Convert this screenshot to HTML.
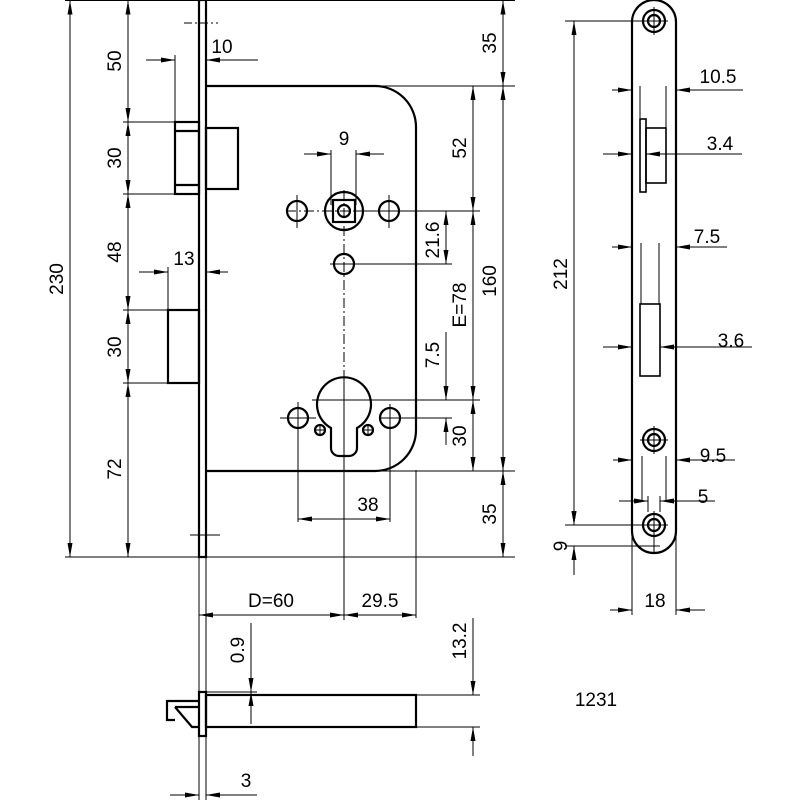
<!DOCTYPE html>
<html><head><meta charset="utf-8"><style>
html,body{margin:0;padding:0;background:#fff}
svg{display:block}
text{font-family:"Liberation Sans",sans-serif;font-size:19px;fill:#000}
</style></head><body>
<svg width="800" height="800" viewBox="0 0 800 800" xmlns="http://www.w3.org/2000/svg">
<defs>
<marker id="a" viewBox="0 0 14 6" refX="14" refY="3" markerWidth="14" markerHeight="6" markerUnits="userSpaceOnUse" orient="auto-start-reverse"><path d="M0,0.5 L14,3 L0,5.5z" fill="#000"/></marker>
</defs>
<g fill="none" stroke="#000" stroke-width="1">
<!-- extension lines -->
<line x1="65" y1="0.5" x2="515" y2="0.5"/>
<line x1="65" y1="557" x2="515" y2="557"/>
<line x1="123" y1="122" x2="175" y2="122"/>
<line x1="123" y1="194" x2="175" y2="194"/>
<line x1="123" y1="310" x2="168" y2="310"/>
<line x1="123" y1="383" x2="168" y2="383"/>
<line x1="375" y1="86" x2="515" y2="86"/>
<line x1="375" y1="471" x2="515" y2="471"/>
<line x1="354" y1="211" x2="480" y2="211"/>
<line x1="354" y1="264" x2="452" y2="264"/>
<line x1="312" y1="400" x2="480" y2="400"/>
<line x1="380" y1="418" x2="452" y2="418"/>
<!-- left dims -->
<line x1="70" y1="0.5" x2="70" y2="557" marker-start="url(#a)" marker-end="url(#a)"/>
<line x1="128" y1="0.5" x2="128" y2="122" marker-start="url(#a)" marker-end="url(#a)"/>
<line x1="128" y1="122" x2="128" y2="194" marker-start="url(#a)" marker-end="url(#a)"/>
<line x1="128" y1="194" x2="128" y2="310" marker-start="url(#a)" marker-end="url(#a)"/>
<line x1="128" y1="310" x2="128" y2="383" marker-start="url(#a)" marker-end="url(#a)"/>
<line x1="128" y1="383" x2="128" y2="557" marker-start="url(#a)" marker-end="url(#a)"/>
<!-- 10 -->
<line x1="175" y1="55" x2="175" y2="122"/>
<line x1="146" y1="60" x2="175" y2="60" marker-end="url(#a)"/>
<line x1="258" y1="60" x2="206" y2="60" marker-end="url(#a)"/>
<line x1="184" y1="23" x2="218" y2="23" stroke-dasharray="8,3,2,3"/>
<!-- 13 -->
<line x1="168" y1="267" x2="168" y2="310"/>
<line x1="139" y1="272" x2="168" y2="272" marker-end="url(#a)"/>
<line x1="228" y1="272" x2="206" y2="272" marker-end="url(#a)"/>
<line x1="190" y1="535" x2="220" y2="535"/>
<!-- right dims -->
<line x1="503" y1="0.5" x2="503" y2="86" marker-start="url(#a)" marker-end="url(#a)"/>
<line x1="503" y1="86" x2="503" y2="471" marker-start="url(#a)" marker-end="url(#a)"/>
<line x1="503" y1="471" x2="503" y2="557" marker-start="url(#a)" marker-end="url(#a)"/>
<line x1="473" y1="86" x2="473" y2="211" marker-start="url(#a)" marker-end="url(#a)"/>
<line x1="473" y1="211" x2="473" y2="400" marker-start="url(#a)" marker-end="url(#a)"/>
<line x1="473" y1="400" x2="473" y2="471" marker-start="url(#a)" marker-end="url(#a)"/>
<line x1="446" y1="211" x2="446" y2="264" marker-start="url(#a)" marker-end="url(#a)"/>
<line x1="446" y1="332" x2="446" y2="400" marker-end="url(#a)"/>
<line x1="446" y1="445" x2="446" y2="418" marker-end="url(#a)"/>
<!-- 9 -->
<line x1="331" y1="150" x2="331" y2="205"/>
<line x1="356" y1="150" x2="356" y2="205"/>
<line x1="304" y1="154" x2="331" y2="154" marker-end="url(#a)"/>
<line x1="384" y1="154" x2="356" y2="154" marker-end="url(#a)"/>
<!-- centerlines -->
<line x1="344" y1="190" x2="344" y2="380" stroke-dasharray="10,3,2,3"/>
<line x1="344" y1="380" x2="344" y2="620"/>
<line x1="286" y1="211" x2="400" y2="211" stroke-dasharray="10,3,2,3"/>
<line x1="297" y1="195" x2="297" y2="228"/>
<line x1="389" y1="195" x2="389" y2="228"/>
<line x1="330" y1="264" x2="354" y2="264"/>
<line x1="298" y1="402" x2="298" y2="522"/>
<line x1="390" y1="404" x2="390" y2="522"/>
<line x1="280" y1="418" x2="316" y2="418"/>
<line x1="314" y1="430" x2="326" y2="430"/><line x1="320" y1="424" x2="320" y2="436"/>
<line x1="362" y1="430" x2="374" y2="430"/><line x1="368" y1="424" x2="368" y2="436"/>
<!-- 38 -->
<line x1="298" y1="519" x2="390" y2="519" marker-start="url(#a)" marker-end="url(#a)"/>
<!-- D=60 / 29.5 -->
<line x1="199" y1="557" x2="199" y2="800"/>
<line x1="206" y1="557" x2="206" y2="800"/>
<line x1="416" y1="470" x2="416" y2="618"/>
<line x1="199" y1="615" x2="344" y2="615" marker-start="url(#a)" marker-end="url(#a)"/>
<line x1="344" y1="615" x2="416" y2="615" marker-start="url(#a)" marker-end="url(#a)"/>
<!-- side view dims -->
<line x1="251" y1="623" x2="251" y2="692" marker-end="url(#a)"/>
<line x1="251" y1="724" x2="251" y2="692" marker-end="url(#a)"/>
<line x1="206" y1="692" x2="257" y2="692"/>
<line x1="416" y1="695" x2="480" y2="695"/>
<line x1="416" y1="727" x2="480" y2="727"/>
<line x1="473" y1="618" x2="473" y2="695" marker-end="url(#a)"/>
<line x1="473" y1="756" x2="473" y2="727" marker-end="url(#a)"/>
<line x1="170" y1="795" x2="199" y2="795" marker-end="url(#a)"/>
<line x1="257" y1="795" x2="206" y2="795" marker-end="url(#a)"/>
<!-- right view dims -->
<line x1="565" y1="21" x2="654" y2="21"/>
<line x1="565" y1="546" x2="660" y2="546"/>
<line x1="574" y1="21" x2="574" y2="525" marker-start="url(#a)" marker-end="url(#a)"/>
<line x1="565" y1="525" x2="654" y2="525"/>
<line x1="574" y1="505" x2="574" y2="525" marker-end="url(#a)"/>
<line x1="574" y1="575" x2="574" y2="546" marker-end="url(#a)"/>
<line x1="612" y1="90" x2="632" y2="90" marker-end="url(#a)"/>
<line x1="743" y1="90" x2="676" y2="90" marker-end="url(#a)"/>
<line x1="640" y1="86" x2="640" y2="118"/><line x1="666" y1="86" x2="666" y2="128"/>
<line x1="603" y1="154" x2="632" y2="154" marker-end="url(#a)"/>
<line x1="742" y1="154" x2="646" y2="154" marker-end="url(#a)"/>
<line x1="612" y1="247" x2="632" y2="247" marker-end="url(#a)"/>
<line x1="727" y1="247" x2="676" y2="247" marker-end="url(#a)"/>
<line x1="641" y1="243" x2="641" y2="304"/><line x1="659" y1="243" x2="659" y2="304"/>
<line x1="603" y1="347" x2="632" y2="347" marker-end="url(#a)"/>
<line x1="752" y1="347" x2="660" y2="347" marker-end="url(#a)"/>
<line x1="613" y1="460" x2="632" y2="460" marker-end="url(#a)"/>
<line x1="735" y1="460" x2="676" y2="460" marker-end="url(#a)"/>
<line x1="642" y1="456" x2="642" y2="500"/><line x1="666" y1="456" x2="666" y2="500"/>
<line x1="619" y1="501" x2="648" y2="501" marker-end="url(#a)"/>
<line x1="715" y1="501" x2="660" y2="501" marker-end="url(#a)"/>
<line x1="648" y1="496" x2="648" y2="512"/><line x1="660" y1="496" x2="660" y2="512"/>
<line x1="632" y1="530" x2="632" y2="615"/><line x1="676" y1="530" x2="676" y2="615"/>
<line x1="610" y1="610" x2="632" y2="610" marker-end="url(#a)"/>
<line x1="705" y1="610" x2="676" y2="610" marker-end="url(#a)"/>
<line x1="640" y1="21" x2="668" y2="21"/><line x1="654" y1="7" x2="654" y2="35"/>
<line x1="640" y1="440" x2="668" y2="440"/><line x1="654" y1="426" x2="654" y2="454"/>
<line x1="640" y1="525" x2="668" y2="525"/><line x1="654" y1="511" x2="654" y2="552"/>
</g>
<g fill="none" stroke="#000" stroke-width="2.2">
<!-- faceplate -->
<rect x="199" y="0" width="7" height="557"/>
<!-- case -->
<path d="M206,86 H375 A41,41 0 0 1 416,127 V430 A41,41 0 0 1 375,471 H206"/>
<!-- latch -->
<rect x="175" y="122" width="24" height="72"/>
<line x1="175" y1="131" x2="199" y2="131"/><line x1="175" y1="185" x2="199" y2="185"/>
<rect x="206" y="128" width="32" height="61"/>
<!-- deadbolt -->
<rect x="168" y="310" width="31" height="73"/>
<!-- spindle -->
<circle cx="344" cy="211" r="19"/>
<rect x="333" y="200" width="22" height="22"/>
<circle cx="344" cy="211" r="6"/>
<circle cx="297" cy="211" r="10"/><circle cx="389" cy="211" r="10"/>
<circle cx="344" cy="264" r="10"/>
<!-- cylinder -->
<path d="M331,428 A27,27 0 1 1 357,428 V448 A8,8 0 0 1 349,456 H339 A8,8 0 0 1 331,448 Z"/>
<circle cx="298" cy="418" r="10"/><circle cx="390" cy="418" r="10"/>
<circle cx="320" cy="430" r="5"/><circle cx="368" cy="430" r="5"/>
<!-- side view -->
<rect x="199" y="692" width="7" height="44"/>
<rect x="206" y="695" width="210" height="32"/>
<path d="M199,701 H167 V720 H175 M175,707 H199 M175,707 L192,727 H199"/>
<!-- right view -->
<rect x="632" y="0" width="44" height="553" rx="22" ry="22"/>
<circle cx="654" cy="21" r="11"/><circle cx="654" cy="21" r="6"/>
<circle cx="654" cy="440" r="11"/><circle cx="654" cy="440" r="6"/>
<circle cx="654" cy="525" r="11"/><circle cx="654" cy="525" r="6"/>
</g>
<g fill="none" stroke="#000" stroke-width="1.6">
<rect x="640" y="119" width="6" height="73"/>
<rect x="646" y="128" width="20" height="55"/>
<rect x="640" y="304" width="20" height="72"/>
</g>
<g>
<text x="222" y="53" text-anchor="middle">10</text>
<text x="184" y="265" text-anchor="middle">13</text>
<text x="344" y="145" text-anchor="middle">9</text>
<text x="368" y="511" text-anchor="middle">38</text>
<text x="271" y="607" text-anchor="middle">D=60</text>
<text x="380" y="607" text-anchor="middle">29.5</text>
<text x="246" y="787" text-anchor="middle">3</text>
<text x="596" y="706" text-anchor="middle">1231</text>
<text x="718" y="83" text-anchor="middle">10.5</text>
<text x="720" y="150" text-anchor="middle">3.4</text>
<text x="707" y="243" text-anchor="middle">7.5</text>
<text x="731" y="347" text-anchor="middle">3.6</text>
<text x="713" y="462" text-anchor="middle">9.5</text>
<text x="703" y="503" text-anchor="middle">5</text>
<text x="655" y="607" text-anchor="middle">18</text>
<text transform="translate(63,279) rotate(-90)" text-anchor="middle">230</text>
<text transform="translate(121,61) rotate(-90)" text-anchor="middle">50</text>
<text transform="translate(121,158) rotate(-90)" text-anchor="middle">30</text>
<text transform="translate(121,252) rotate(-90)" text-anchor="middle">48</text>
<text transform="translate(121,347) rotate(-90)" text-anchor="middle">30</text>
<text transform="translate(121,469) rotate(-90)" text-anchor="middle">72</text>
<text transform="translate(496,43) rotate(-90)" text-anchor="middle">35</text>
<text transform="translate(496,281) rotate(-90)" text-anchor="middle">160</text>
<text transform="translate(496,514) rotate(-90)" text-anchor="middle">35</text>
<text transform="translate(466,148) rotate(-90)" text-anchor="middle">52</text>
<text transform="translate(466,305) rotate(-90)" text-anchor="middle">E=78</text>
<text transform="translate(466,436) rotate(-90)" text-anchor="middle">30</text>
<text transform="translate(439,240) rotate(-90)" text-anchor="middle">21.6</text>
<text transform="translate(439,355) rotate(-90)" text-anchor="middle">7.5</text>
<text transform="translate(244,650) rotate(-90)" text-anchor="middle">0.9</text>
<text transform="translate(466,641) rotate(-90)" text-anchor="middle">13.2</text>
<text transform="translate(567,274) rotate(-90)" text-anchor="middle">212</text>
<text transform="translate(567,546) rotate(-90)" text-anchor="middle">9</text>
</g>
</svg>
</body></html>
